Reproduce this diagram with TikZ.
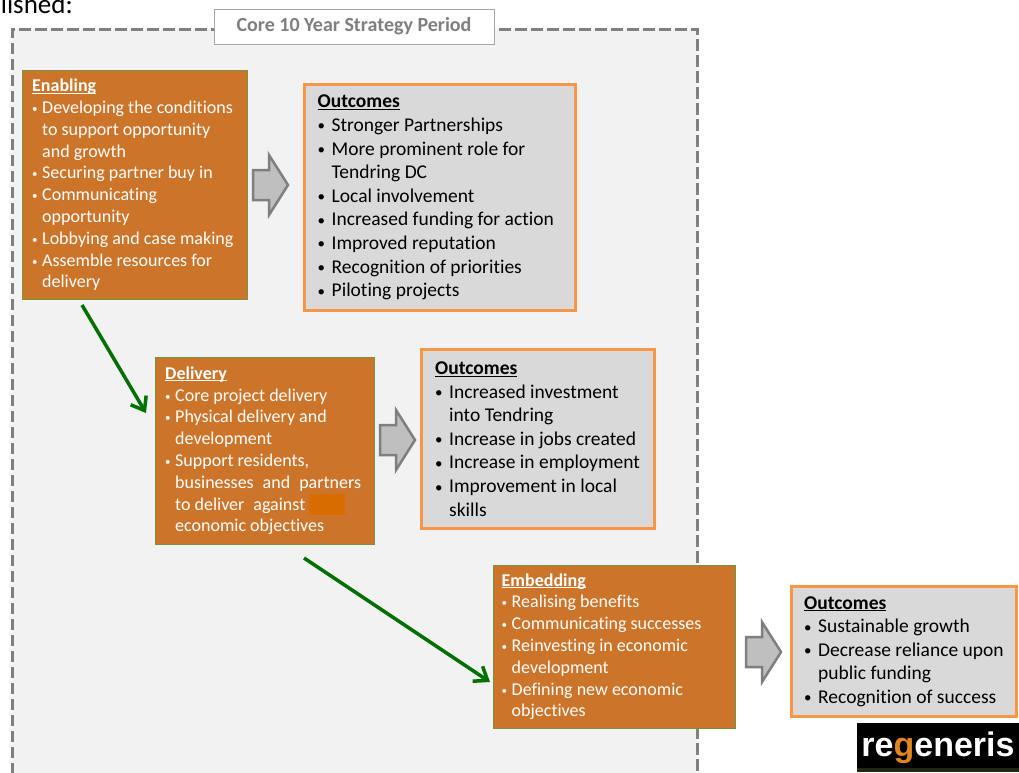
\documentclass[tikz,border=0pt]{standalone}
\usepackage{fontspec}
\setmainfont{Carlito}[Ligatures=CommonOff]
\newfontfamily\logofont{Liberation Sans}
\usetikzlibrary{arrows.meta}
\definecolor{orfill}{RGB}{204,117,42}
\definecolor{orline}{RGB}{119,147,60}
\definecolor{outfill}{RGB}{217,217,217}
\definecolor{outline}{RGB}{247,150,70}
\definecolor{bgcol}{RGB}{242,242,242}
\definecolor{dashcol}{RGB}{128,128,128}
\definecolor{arrfill}{RGB}{191,191,191}
\definecolor{arrline}{RGB}{127,127,127}
\definecolor{greencol}{RGB}{0,112,0}
\definecolor{hlcol}{RGB}{217,108,0}
\definecolor{titletext}{RGB}{127,127,127}
\definecolor{titleline}{RGB}{166,166,166}
\definecolor{logog}{RGB}{224,134,30}
\definecolor{logostrip}{RGB}{30,40,20}
\newcommand\hdr[1]{\setbox0\hbox{\textbf{#1}}\rlap{\rule[-2.2pt]{\wd0}{1.2pt}}\box0}
\newcommand\wb{\makebox[10pt][l]{\raisebox{1pt}{\fontsize{11}{11}\selectfont •}}}
\newcommand\wc{\hspace*{10pt}}
\newcommand\kb{\makebox[14pt][l]{\raisebox{0.5pt}{\fontsize{15}{15}\selectfont •}}}
\newcommand\kc{\hspace*{14pt}}
\newcommand\blockarrow[3]{%
  \coordinate (#1) at (#2,#3);
  \draw[blockarr] (#2,#3-15) -- (#2+16,#3-15) -- (#2+16,#3-30) -- (#2+35,#3)
    -- (#2+16,#3+30) -- (#2+16,#3+15) -- (#2,#3+15) -- cycle;}
\begin{document}
\begin{tikzpicture}[x=1pt,y=-1pt,
  orbox/.style={draw=orline, fill=orfill, line width=1pt, inner sep=0pt, outer sep=0pt, anchor=north west},
  outbox/.style={draw=outline, fill=outfill, line width=3pt, inner sep=0pt, outer sep=0pt, anchor=north west},
  ortext/.style={anchor=west, inner sep=0pt, align=left, text=white, font=\fontsize{18}{21.8}\selectfont},
  outtext/.style={anchor=west, inner sep=0pt, align=left, text=black, font=\fontsize{19.5}{23.6}\selectfont},
  blockarr/.style={fill=arrfill, draw=arrline, line width=2.5pt, line join=miter},
  greenarr/.style={draw=greencol, line width=3.5pt, -{Straight Barb[length=12pt,width=18pt]}},
  dashline/.style={draw=dashcol, line width=3pt, dash pattern=on 11.5pt off 4.5pt},
  titlebox/.style={draw=titleline, fill=white, line width=1pt, inner sep=0pt, minimum width=280pt, minimum height=35pt, text=titletext, font=\bfseries\fontsize{20}{23}\selectfont}
]
\useasboundingbox (0,0) rectangle (1019,772);
\node[anchor=base east, inner sep=0pt, font=\fontsize{27}{31}\selectfont] (intro) at (73,13) {established:};
% strategy period frame
\fill[bgcol] (12,29) rectangle (697,790);
\draw[dashline] (12,790) -- (12,29) -- (697,29) -- (697,790);
\node[titlebox] (title) at (354,26.5) {Core 10 Year Strategy Period};
% enabling
\node[orbox, minimum width=225pt, minimum height=229pt] (enab) at (22.5,70.5) {};
\node[ortext] (enabt) at ([xshift=9.5pt]enab.west) {\hdr{Enabling}\\
\wb Developing the conditions\\
\wc to support opportunity\\
\wc and growth\\
\wb Securing partner buy in\\
\wb Communicating\\
\wc opportunity\\
\wb Lobbying and case making\\
\wb Assemble resources for\\
\wc delivery};
% outcomes 1
\node[outbox, minimum width=271pt, minimum height=226pt] (out1) at (304.5,84.5) {};
\node[outtext] (out1t) at ([xshift=13pt]out1.west) {\hdr{Outcomes}\\
\kb Stronger Partnerships\\
\kb More prominent role for\\
\kc Tendring DC\\
\kb Local involvement\\
\kb Increased funding for action\\
\kb Improved reputation\\
\kb Recognition of priorities\\
\kb Piloting projects};
% delivery
\node[orbox, minimum width=218.5pt, minimum height=186.5pt] (deliv) at (155.5,357.5) {};
\node[ortext] (delivt) at ([xshift=9.5pt]deliv.west) {\hdr{Delivery}\\
\wb Core project delivery\\
\wb Physical delivery and\\
\wc development\\
\wb Support residents,\\
\wc businesses\hspace{9pt}and\hspace{9pt}partners\\
\wc to deliver\hspace{9pt}against\hspace{4pt}{\color{hlcol}\rule[-5pt]{36pt}{21pt}}\\
\wc economic objectives};
% outcomes 2
\node[outbox, minimum width=233pt, minimum height=179pt] (out2) at (421.5,349.5) {};
\node[outtext] (out2t) at ([xshift=13.5pt]out2.west) {\hdr{Outcomes}\\
\kb Increased investment\\
\kc into Tendring\\
\kb Increase in jobs created\\
\kb Increase in employment\\
\kb Improvement in local\\
\kc skills};
% embedding
\node[orbox, minimum width=241.5pt, minimum height=162.5pt] (emb) at (493.5,565.5) {};
\node[ortext] (embt) at ([xshift=8pt]emb.west) {\hdr{Embedding}\\
\wb Realising benefits\\
\wb Communicating successes\\
\wb Reinvesting in economic\\
\wc development\\
\wb Defining new economic\\
\wc objectives};
% outcomes 3
\node[outbox, minimum width=225pt, minimum height=130pt] (out3) at (791.5,586.5) {};
\node[outtext] (out3t) at ([xshift=12.5pt]out3.west) {\hdr{Outcomes}\\
\kb Sustainable growth\\
\kb Decrease reliance upon\\
\kc public funding\\
\kb Recognition of success};
% block arrows
\blockarrow{arr1}{253}{185}
\blockarrow{arr2}{380}{440}
\blockarrow{arr3}{746}{652}
% green arrows
\draw[greenarr] ([shift={(59.5,5.5)}]enab.south west) -- ([shift={(-9.5,55.5)}]deliv.north west);
\draw[greenarr] ([shift={(148.5,14)}]deliv.south west) -- ([shift={(-3.5,116.5)}]emb.north west);
% logo
\node[fill=black, minimum width=162pt, minimum height=49pt, inner sep=0pt, outer sep=0pt, anchor=north west, text=white, font=\logofont\bfseries\fontsize{34}{34}\selectfont] (logo) at (857,723) {re\textcolor{logog}{g}eneris};
\fill[logostrip] (857,768) rectangle (1019,772);
\end{tikzpicture}
\end{document}
